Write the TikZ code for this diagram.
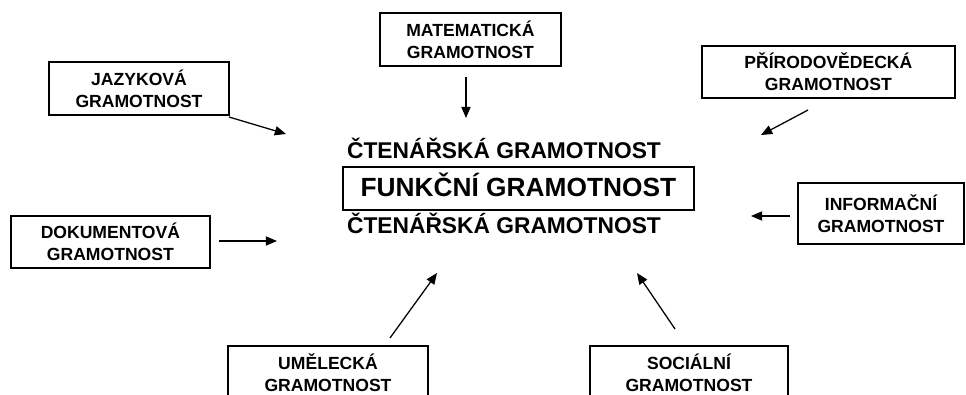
\documentclass[tikz,border=0pt]{standalone}
\usepackage{fontspec}
\setmainfont{Liberation Sans}
\usetikzlibrary{arrows.meta}
\tikzset{
  every node/.style={font=\bfseries\fontsize{12.5}{15.6}\selectfont,text=black},
  arr/.style={-{Triangle[length=2.8mm,width=2.3mm]},line width=.9pt,draw=black},
  box/.style={draw=black,line width=.9pt,align=center,inner sep=0},
  title/.style={font=\bfseries\fontsize{16.2}{19}\selectfont,anchor=base,inner sep=0}
}
\begin{document}
\begin{tikzpicture}[x=1mm,y=-1mm]
  \path[use as bounding box] (0,0) rectangle (241.5,98.5);
  \clip (0,0) rectangle (241.5,98.5);

  % centre
  \node[title] (top) at (126,39.5) {ČTENÁŘSKÁ GRAMOTNOST};
  \node[box,font=\bfseries\fontsize{18.7}{22}\selectfont,minimum width=87.75mm,minimum height=10.75mm,text depth=1.8mm] (funkcni) at (129.6,47.1) {FUNKČNÍ GRAMOTNOST};
  \node[title] (bottom) at (126,58.25) {ČTENÁŘSKÁ GRAMOTNOST};

  % surrounding literacies
  \node[box,minimum width=45mm,minimum height=13.25mm] (jazykova) at (34.75,22.1) {JAZYKOVÁ\\GRAMOTNOST};
  \node[box,minimum width=45.25mm,minimum height=13.25mm] (matematicka) at (117.6,9.9) {MATEMATICKÁ\\GRAMOTNOST};
  \node[box,minimum width=63.25mm,minimum height=13mm] (prirodovedecka) at (207.1,18) {PŘÍRODOVĚDECKÁ\\GRAMOTNOST};
  \node[box,minimum width=41.5mm,minimum height=15.25mm] (informacni) at (220.25,53.4) {INFORMAČNÍ\\GRAMOTNOST};
  \node[box,minimum width=49.75mm,minimum height=13mm] (dokumentova) at (27.6,60.5) {DOKUMENTOVÁ\\GRAMOTNOST};
  \node[box,minimum width=50mm,minimum height=13.25mm] (umelecka) at (82,93.1) {UMĚLECKÁ\\GRAMOTNOST};
  \node[box,minimum width=49.5mm,minimum height=13.25mm] (socialni) at (172.25,93.1) {SOCIÁLNÍ\\GRAMOTNOST};

  % arrow ends
  \coordinate (jaz-a) at (57.25,29.25);  \coordinate (jaz-b) at (71.5,33.5);
  \coordinate (mat-a) at (116.5,19.25);  \coordinate (mat-b) at (116.5,29.5);
  \coordinate (pri-a) at (202,27.5);     \coordinate (pri-b) at (190.25,33.75);
  \coordinate (inf-a) at (197.5,54);     \coordinate (inf-b) at (187.75,54);
  \coordinate (dok-a) at (54.75,60.25);  \coordinate (dok-b) at (69.25,60.25);
  \coordinate (ume-a) at (97.5,84.5);    \coordinate (ume-b) at (109.25,68.25);
  \coordinate (soc-a) at (168.75,82.25); \coordinate (soc-b) at (159.25,68.25);

  \foreach \n in {jaz,mat,pri,inf,dok,ume,soc} {\draw[arr] (\n-a) -- (\n-b);}
\end{tikzpicture}
\end{document}
